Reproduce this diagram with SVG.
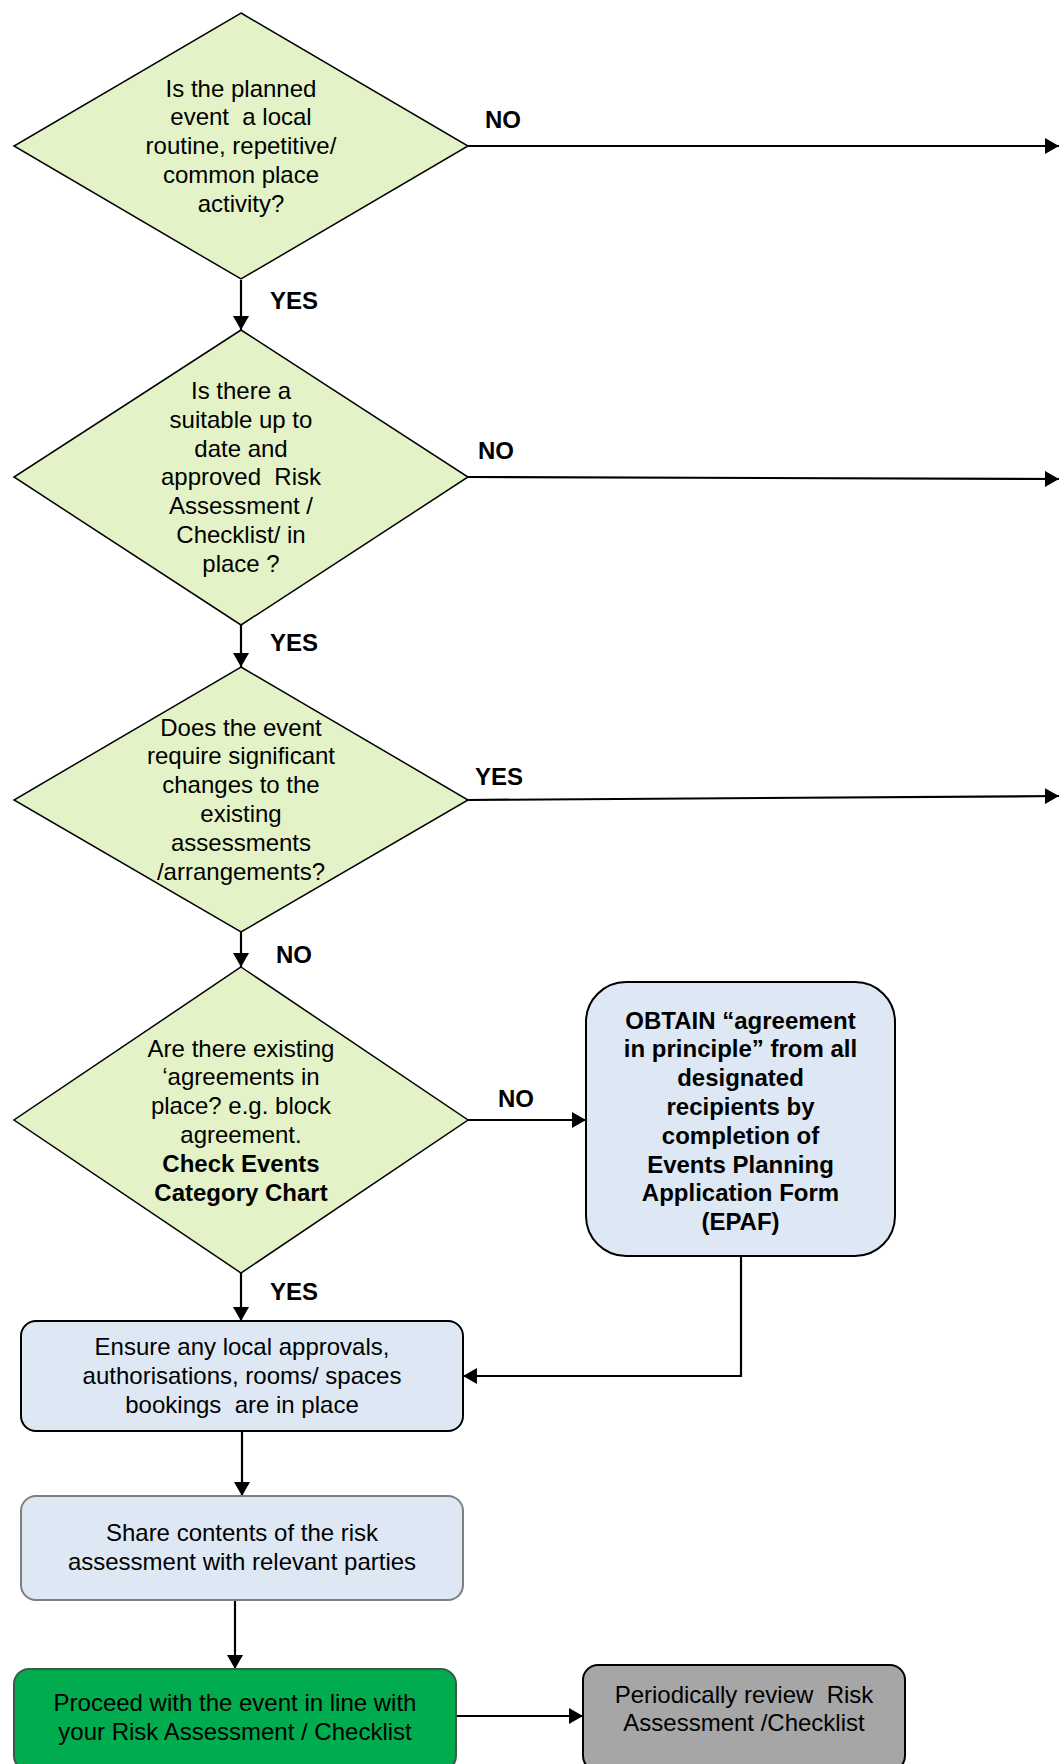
<svg xmlns="http://www.w3.org/2000/svg" width="1059" height="1764" viewBox="0 0 1059 1764">
<defs>
<marker id="arr" viewBox="0 0 14 16" markerWidth="14" markerHeight="16" refX="14" refY="8" orient="auto" markerUnits="userSpaceOnUse">
<path d="M0,0 L14,8 L0,16 z" fill="#000"/>
</marker>
</defs>
<style>
text{font-family:"Liberation Sans",Arial,sans-serif;font-size:24px;fill:#000;text-anchor:middle}
.b{font-weight:bold}
.lbl{font-weight:bold;text-anchor:start}
.dia{fill:#e4f3c7;stroke:#000;stroke-width:1.5}
.blue{fill:#dde8f4;stroke:#000;stroke-width:2}
.con{fill:none;stroke:#000;stroke-width:2.2;marker-end:url(#arr)}
</style>
<g id="connectors">
<path class="con" d="M468,146 L1059,146"/>
<path class="con" d="M468,477 L1059,479"/>
<path class="con" d="M468,800 L1059,796"/>
<path class="con" d="M241,280 L241,330"/>
<path class="con" d="M241,625 L241,667"/>
<path class="con" d="M241,932 L241,967"/>
<path class="con" d="M241,1273 L241,1321"/>
<path class="con" d="M468,1120 L586,1120"/>
<path class="con" d="M741,1256 L741,1376 L463,1376"/>
<path class="con" d="M242,1431 L242,1496"/>
<path class="con" d="M235,1600 L235,1669"/>
<path class="con" d="M456,1716 L583,1716"/>
<text class="lbl" x="485" y="128">NO</text>
<text class="lbl" x="478" y="459">NO</text>
<text class="lbl" x="475" y="785">YES</text>
<text class="lbl" x="270" y="309">YES</text>
<text class="lbl" x="270" y="651">YES</text>
<text class="lbl" x="276" y="963">NO</text>
<text class="lbl" x="270" y="1300">YES</text>
<text class="lbl" x="498" y="1107">NO</text>
</g>
<g id="d1">
<polygon class="dia" points="241,13 468,146 241,279 14,146"/>
<text x="241" y="96.5"><tspan x="241">Is the planned</tspan><tspan x="241" dy="28.8">event&#160; a local</tspan><tspan x="241" dy="28.8">routine, repetitive/</tspan><tspan x="241" dy="28.8">common place</tspan><tspan x="241" dy="28.8">activity?</tspan></text>
</g>
<g id="d2">
<polygon class="dia" points="241,330 468,477 241,625 14,477"/>
<text x="241" y="399"><tspan x="241">Is there a</tspan><tspan x="241" dy="28.8">suitable up to</tspan><tspan x="241" dy="28.8">date and</tspan><tspan x="241" dy="28.8">approved&#160; Risk</tspan><tspan x="241" dy="28.8">Assessment /</tspan><tspan x="241" dy="28.8">Checklist/ in</tspan><tspan x="241" dy="28.8">place ?</tspan></text>
</g>
<g id="d3">
<polygon class="dia" points="241,667 468,800 241,932 14,800"/>
<text x="241" y="735.5"><tspan x="241">Does the event</tspan><tspan x="241" dy="28.8">require significant</tspan><tspan x="241" dy="28.8">changes to the</tspan><tspan x="241" dy="28.8">existing</tspan><tspan x="241" dy="28.8">assessments</tspan><tspan x="241" dy="28.8">/arrangements?</tspan></text>
</g>
<g id="d4">
<polygon class="dia" points="241,967 468,1120 241,1273 14,1120"/>
<text x="241" y="1056.5"><tspan x="241">Are there existing</tspan><tspan x="241" dy="28.8">‘agreements in</tspan><tspan x="241" dy="28.8">place? e.g. block</tspan><tspan x="241" dy="28.8">agreement.</tspan><tspan x="241" dy="28.8" class="b">Check Events</tspan><tspan x="241" dy="28.8" class="b">Category Chart</tspan></text>
</g>
<g id="obtain">
<rect class="blue" x="586" y="982" width="309" height="274" rx="40" ry="40"/>
<text class="b" x="740.5" y="1028.5"><tspan x="740.5">OBTAIN “agreement</tspan><tspan x="740.5" dy="28.8">in principle” from all</tspan><tspan x="740.5" dy="28.8">designated</tspan><tspan x="740.5" dy="28.8">recipients by</tspan><tspan x="740.5" dy="28.8">completion of</tspan><tspan x="740.5" dy="28.8">Events Planning</tspan><tspan x="740.5" dy="28.8">Application Form</tspan><tspan x="740.5" dy="28.8">(EPAF)</tspan></text>
</g>
<g id="ensure">
<rect class="blue" x="21" y="1321" width="442" height="110" rx="15" ry="15"/>
<text x="242" y="1355"><tspan x="242">Ensure any local approvals,</tspan><tspan x="242" dy="28.8">authorisations, rooms/ spaces</tspan><tspan x="242" dy="28.8">bookings&#160; are in place</tspan></text>
</g>
<g id="share">
<rect x="21" y="1496" width="442" height="104" rx="15" ry="15" fill="#dde8f4" stroke="#7f7f7f" stroke-width="2"/>
<text x="242" y="1541"><tspan x="242">Share contents of the risk</tspan><tspan x="242" dy="28.8">assessment with relevant parties</tspan></text>
</g>
<g id="proceed">
<rect x="14" y="1669" width="442" height="102" rx="15" ry="15" fill="#00ac4e" stroke="#3d5a45" stroke-width="2"/>
<text x="235" y="1711"><tspan x="235">Proceed with the event in line with</tspan><tspan x="235" dy="28.8">your Risk Assessment / Checklist</tspan></text>
</g>
<g id="review">
<rect x="583" y="1665" width="322" height="106" rx="15" ry="15" fill="#a6a6a6" stroke="#000" stroke-width="2"/>
<text x="744" y="1702.5"><tspan x="744">Periodically review&#160; Risk</tspan><tspan x="744" dy="28.5">Assessment /Checklist</tspan></text>
</g>
</svg>
